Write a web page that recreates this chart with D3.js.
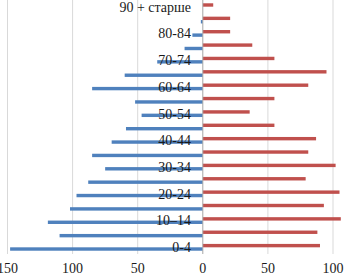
<!DOCTYPE html>
<html>
<head>
<meta charset="utf-8">
<script src="https://cdn.jsdelivr.net/npm/d3@7"></script>
<style>
  body { margin: 0; background: #fff; }
</style>
</head>
<body>
<svg width="346" height="276"></svg>
<script>
// age groups, bottom to top
var ages = ["0-4", "5-9", "10–14", "15-19", "20-24", "25-29", "30-34", "35-39", "40-44",
            "45-49", "50-54", "55-59", "60-64", "65-69", "70-74", "75-79", "80-84", "85-89",
            "90 + старше"];
var leftValues = [148, 110, 119, 102, 97, 88, 75, 85, 70, 59, 47, 52, 85, 60, 35, 14, 8, 1.5, 0];
var rightValues = [90, 88, 106, 93, 105, 79, 102, 81, 87, 55, 36, 55, 81, 95, 55, 38, 21, 21, 8];
var xTicks = [-150, -100, -50, 0, 50, 100];

var blueColor = "#4f81bd",
    redColor = "#c0504d",
    fontFam = "'Times New Roman', 'Liberation Serif', serif";

var svg = d3.select("svg");

var x = d3.scaleLinear().domain([-150, 100]).range([7.5, 333]);
var y = d3.scaleBand().domain(ages).range([254, 0]);
var barH = 3.4;

// gridlines
svg.append("g")
  .selectAll("line")
  .data(xTicks.filter(function(d) { return d !== 0; }))
  .enter().append("line")
    .attr("x1", function(d) { return x(d); })
    .attr("x2", function(d) { return x(d); })
    .attr("y1", 0)
    .attr("y2", 254)
    .attr("stroke", "#d9d9d9")
    .attr("stroke-width", 1);

// left bars (blue)
svg.append("g")
  .selectAll("rect")
  .data(ages)
  .enter().append("rect")
    .attr("x", function(d, i) { return x(-leftValues[i]); })
    .attr("y", function(d) { return y(d) + y.bandwidth() / 2; })
    .attr("width", function(d, i) { return x(0) - x(-leftValues[i]); })
    .attr("height", barH)
    .attr("fill", blueColor);

// right bars (red)
svg.append("g")
  .selectAll("rect")
  .data(ages)
  .enter().append("rect")
    .attr("x", x(0))
    .attr("y", function(d) { return y(d) + y.bandwidth() / 2 - barH; })
    .attr("width", function(d, i) { return x(rightValues[i]) - x(0); })
    .attr("height", barH)
    .attr("fill", redColor);

// zero axis
svg.append("line")
  .attr("x1", x(0)).attr("x2", x(0))
  .attr("y1", 0).attr("y2", 254)
  .attr("stroke", "#a6a6a6")
  .attr("stroke-width", 1);

// category labels (every other)
svg.append("g")
  .selectAll("text")
  .data(ages.filter(function(d, i) { return i % 2 === 0; }))
  .enter().append("text")
    .attr("x", 191)
    .attr("y", function(d) { return y(d) + y.bandwidth() / 2; })
    .attr("dy", "0.35em")
    .attr("text-anchor", "end")
    .attr("fill", "#1a1a1a")
    .attr("font-family", fontFam)
    .attr("font-size", 14)
    .text(function(d) { return d; });

// x tick labels
svg.append("g")
  .selectAll("text")
  .data(xTicks)
  .enter().append("text")
    .attr("x", function(d) { return x(d); })
    .attr("y", 273)
    .attr("text-anchor", "middle")
    .attr("fill", "#1a1a1a")
    .attr("font-family", fontFam)
    .attr("font-size", 14)
    .text(function(d) { return Math.abs(d); });
</script>
</body>
</html>
